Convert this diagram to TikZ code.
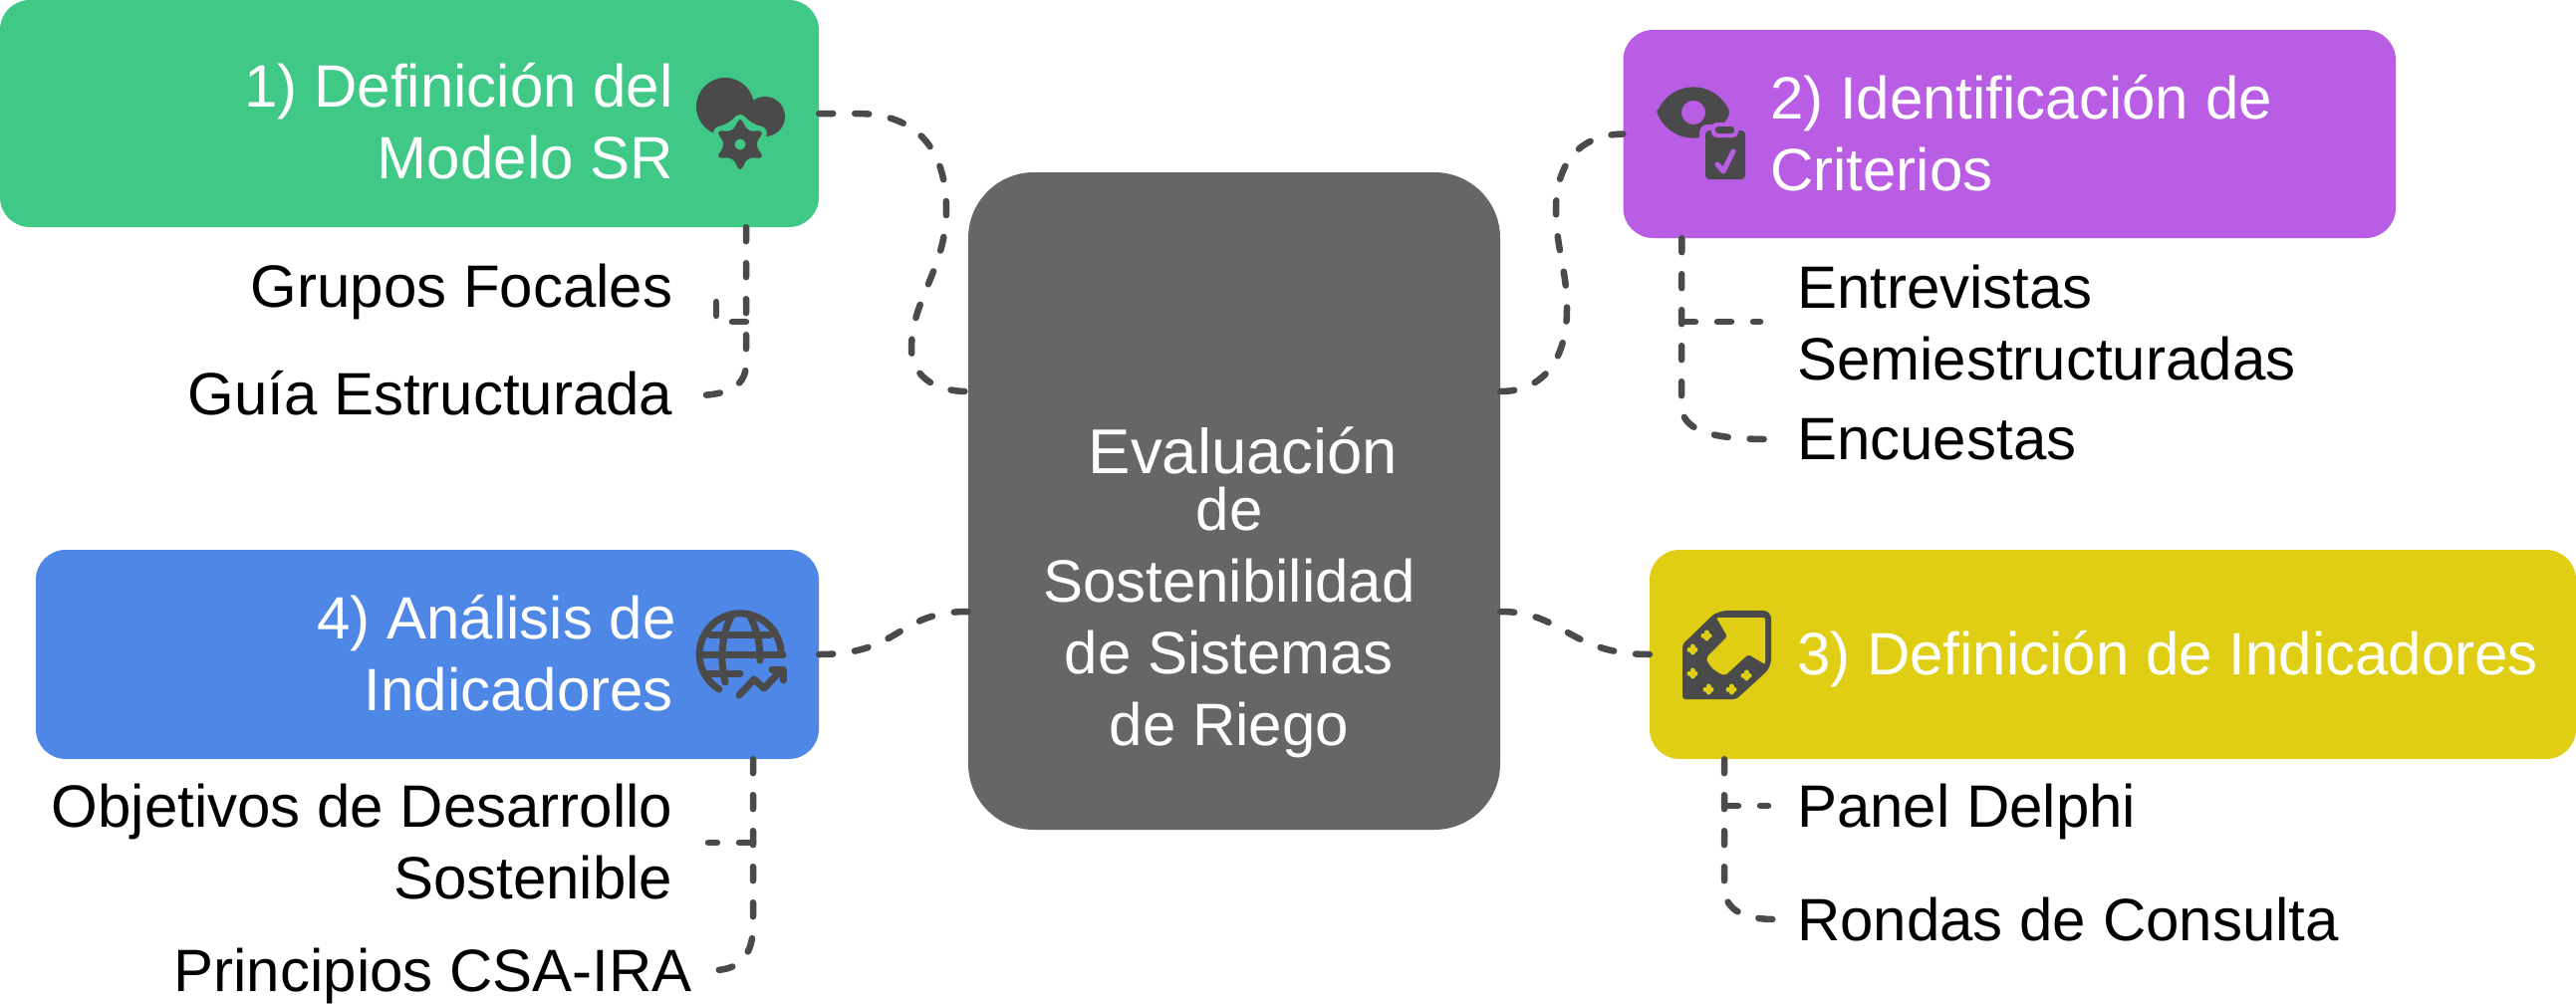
\documentclass[tikz,border=0pt]{standalone}
\usepackage{fontspec}
\setmainfont{Liberation Sans}
\definecolor{cgreen}{HTML}{3FC886}
\definecolor{cpurple}{HTML}{B95DE4}
\definecolor{cblue}{HTML}{4F87E6}
\definecolor{cyellow}{HTML}{DFCE13}
\definecolor{cgray}{HTML}{666666}
\definecolor{cdark}{HTML}{4A4A4A}
\tikzset{
  boxnode/.style={rectangle,rounded corners=30pt,inner sep=0pt,draw=none},
  centerbox/.style={boxnode,rounded corners=66pt,fill=cgray},
  txt/.style={inner sep=0pt,font=\fontsize{60}{72}\selectfont,text height=44pt,text depth=12pt},
  mtxt/.style={inner sep=0pt,font=\fontsize{60}{72}\selectfont},
  title/.style={txt,text=white},
  mtitle/.style={mtxt,text=white},
  link/.style={draw=cdark,line width=6.5pt,line cap=round,dash pattern=on 14pt off 22pt},
  icon/.style={line width=7pt,line cap=round,line join=round,draw=cdark},
}
\begin{document}
\begin{tikzpicture}[x=1pt,y=-1pt]
\useasboundingbox (0,0) rectangle (2586,1007);
% boxes
\node[boxnode,fill=cgreen,minimum width=822pt,minimum height=228pt] (n1) at (411,114) {};
\node[boxnode,fill=cpurple,minimum width=775.5pt,minimum height=209pt] (n2) at (2017.25,134.5) {};
\node[boxnode,fill=cyellow,minimum width=930pt,minimum height=210pt] (n3) at (2121,657) {};
\node[boxnode,fill=cblue,minimum width=786pt,minimum height=210pt] (n4) at (429,657) {};
\node[centerbox,minimum width=534pt,minimum height=660pt] (c) at (1239,503) {};
% titles
\node[mtitle,align=right,anchor=base east] (t1) at (676,179) {1) Definición del\\Modelo SR};
\node[mtitle,align=left,anchor=base west] (t2) at (1777,191) {2) Identificación de\\Criterios};
\node[title,anchor=base west] (t3) at (1804,677) {3) Definición de Indicadores};
\node[mtitle,align=right,anchor=base east] (t4) at (676,713) {4) Análisis de\hspace*{-3pt}\\Indicadores};
\node[mtitle,align=center,anchor=base] (ct) at (1234,748) {\hspace*{28pt}{\fontsize{63.5}{72}\selectfont Evaluación}\\[-15pt]de\\Sostenibilidad\\de Sistemas\\de Riego};
% sub labels
\node[txt,anchor=base east] (a1) at (675.5,308) {Grupos Focales};
\node[txt,anchor=base east] (a2) at (675.5,416) {Guía Estructurada};
\node[mtxt,align=left,anchor=base west] (b1) at (1804,381) {Entrevistas\\Semiestructuradas};
\node[txt,anchor=base west] (b2) at (1804,461) {Encuestas};
\node[txt,anchor=base west] (d1) at (1804,830) {Panel Delphi};
\node[txt,anchor=base west] (d2) at (1804,944) {Rondas de Consulta};
\node[mtxt,align=right,anchor=base east] (e1) at (675.5,902) {Objetivos de Desarrollo\\Sostenible};
\node[txt,anchor=base east] (e2) at (695,995) {Principios CSA-IRA};
% main connectors
\draw[link] (n1.east) -- ++(38,0) .. controls +(60,0) and (950,150) .. (950,210)
  .. controls (950,270) and (915,300) .. (915,350)
  .. controls (915,375) and (935,393) .. ([yshift=110pt]c.west);
\draw[link] ([yshift=110pt]c.east) .. controls (1550,393) and (1573,360) .. (1573,310)
  .. controls (1573,270) and (1562,250) .. (1562,210)
  .. controls (1562,165) and (1585,135) .. (n2.west);
\draw[link] ([yshift=-111pt]c.east) .. controls (1570,614) and (1575,657) .. (n3.west);
\draw[link] (n4.east) .. controls (905,657) and (900,614) .. ([yshift=-111pt]c.west);
% green branches
\draw[link] ([xshift=338pt]n1.south) -- (749,365) .. controls (749,385) and (735,396) .. ([shift={(26.5pt,3pt)}]a2.east);
\draw[link] (749,323) -- (719,323) -- ([shift={(43.5pt,5pt)}]a1.east);
% purple branches
\draw[link] ([xshift=-329pt]n2.south) -- (1688,405) .. controls (1688,425) and (1700,441) .. ([shift={(-29pt,4pt)}]b2.west);
\draw[link] (1688,323) -- ([shift={(-37pt,58pt)}]b1.base west);
% yellow branches
\draw[link] ([xshift=-390pt]n3.south) -- (1731,891) .. controls (1731,910) and (1745,923) .. ([shift={(-22pt,5pt)}]d2.west);
\draw[link] (1731,809) -- ([shift={(-29pt,5pt)}]d1.west);
% blue branches
\draw[link] ([xshift=327pt]n4.south) -- (756,930) .. controls (756,955) and (745,974) .. ([shift={(22pt,5pt)}]e2.east);
\draw[link] (756,846) -- ([shift={(35.5pt,56pt)}]e1.base east);
% icon 1
\fill[cdark] (728,107) circle (29);
\fill[cdark] (768,117) circle (20);
\fill[cdark] (712,131) -- (770,137) -- (750,105) -- cycle;
\begin{scope}[shift={(743,145)}]
\fill[cgreen,rounded corners=9pt] (90:34) -- (60:23) -- (30:34) -- (0:23) -- (-30:34) -- (-60:23) -- (-90:34) -- (-120:23) -- (-150:34) -- (180:23) -- (150:34) -- (120:23) -- cycle;
\fill[cdark,rounded corners=6pt] (90:28) -- (60:15) -- (30:28) -- (0:15) -- (-30:28) -- (-60:15) -- (-90:28) -- (-120:15) -- (-150:28) -- (180:15) -- (150:28) -- (120:15) -- cycle;
\fill[cgreen] (0,0) circle (5.5);
\end{scope}
% icon 2
\fill[cdark,rounded corners=4pt] (1663,113) .. controls (1680,80) and (1720,80) .. (1737,113) .. controls (1720,146) and (1680,146) .. cycle;
\fill[cpurple] (1700,113) circle (12);
\fill[cpurple,rounded corners=8pt] (1706,125) rectangle (1760,186);
\fill[cdark,rounded corners=4pt] (1712,131) rectangle (1752,180);
\fill[cpurple,rounded corners=5pt] (1718,123) rectangle (1745,138);
\fill[cdark,rounded corners=3pt] (1722,127) rectangle (1741,134);
\draw[cpurple,line width=5pt,line cap=round,line join=round] (1724,165) -- (1730,172) -- (1740,152);
% icon 3
\fill[cdark,rounded corners=3pt] (1689,702) -- (1689,647) -- (1719,618) [rounded corners=8pt] -- (1726,613) -- (1778,613) -- (1778,670) [rounded corners=3pt] -- (1743,702) -- cycle;
\fill[cyellow,rounded corners=2pt] (1723,620) -- (1772,620) -- (1772,667) -- (1755,657) -- (1732,678) .. controls (1722,675) and (1715,668) .. (1713,660) -- (1734,639) -- cycle;
\foreach \sx/\sy in {1713/638,1699/652,1699/676,1715/692,1738/692,1753/678}{
  \draw[cyellow,line width=5pt,line cap=round] (\sx-3,\sy) -- (\sx+3,\sy) (\sx,\sy-3) -- (\sx,\sy+3);
}
% icon 4
\draw[icon] (722,692) arc[start angle=121,end angle=360,radius=41];
\draw[icon] (735,617) .. controls (725,635) and (722,660) .. (728,685);
\draw[icon] (752,617) .. controls (760,632) and (763,645) .. (763,663);
\draw[icon] (713,637) -- (773,637) (707,657) -- (786,657) (710,676) -- (743,676);
\draw[icon] (742,698) -- (757,682) -- (767,691) -- (785,672);
\draw[icon] (775,672) -- (786,672) -- (786,683);
\end{tikzpicture}
\end{document}
